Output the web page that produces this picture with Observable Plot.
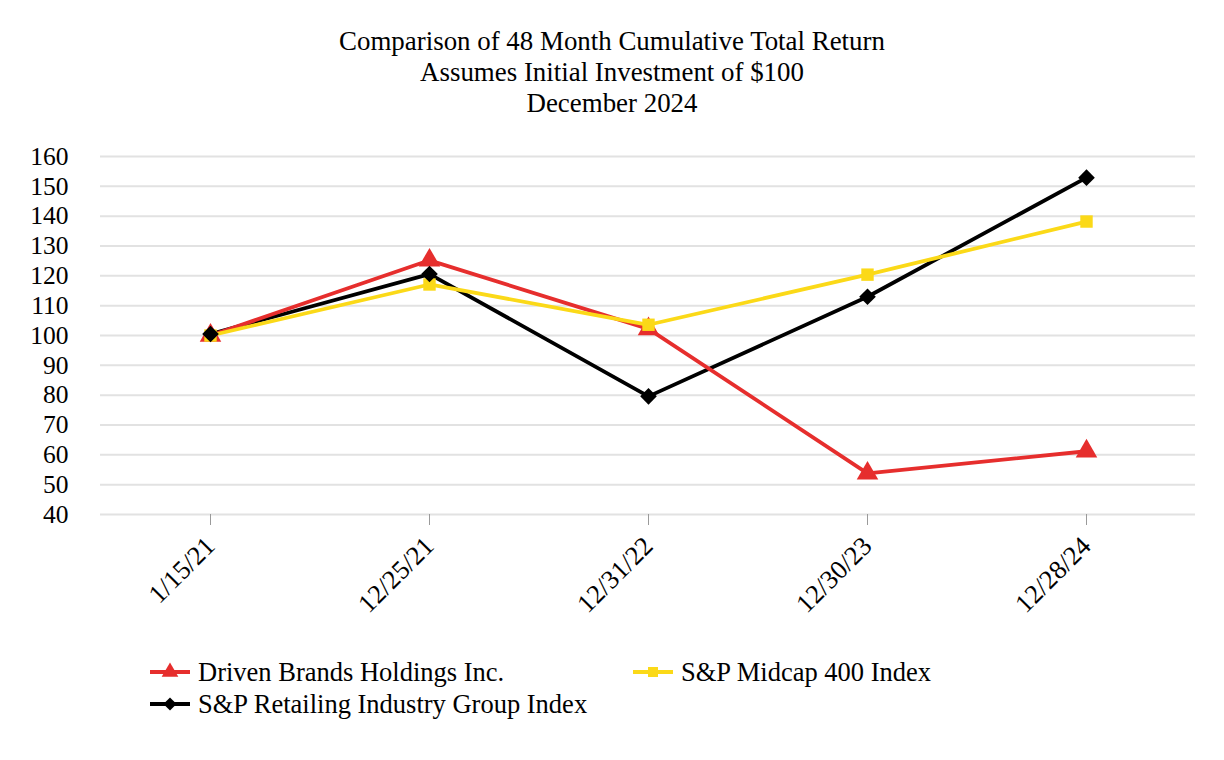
<!DOCTYPE html>
<html>
<head>
<meta charset="utf-8">
<script src="https://cdn.jsdelivr.net/npm/d3@7"></script>
<script src="https://cdn.jsdelivr.net/npm/@observablehq/plot@0.6"></script>
<style>
  html, body { margin: 0; padding: 0; background: #fff; }
  body { width: 1224px; height: 760px; position: relative; font-family: "Liberation Serif", "Times New Roman", serif; color: #000; }
  #title { position: absolute; top: 26px; left: 0; width: 1224px; text-align: center; font-size: 26.9px; line-height: 31px; }
  #chart { position: absolute; top: 130px; left: 0; }
  #chart svg, #chart svg text { font-family: "Liberation Serif", "Times New Roman", serif !important; }
  #chart svg g[aria-label="y-axis tick label"] text { font-size: 25.5px !important; }
  #chart svg g[aria-label="x-axis tick label"] text { font-size: 26.5px !important; }
  .leg { position: absolute; display: flex; align-items: center; font-size: 26.5px; white-space: nowrap; }
  .leg svg { margin-right: 8px; }
</style>
</head>
<body>
<div id="title">Comparison of 48 Month Cumulative Total Return<br>Assumes Initial Investment of $100<br>December 2024</div>
<div id="chart"></div>
<div id="legend"></div>
<script>
const dates = ["1/15/21", "12/25/21", "12/31/22", "12/30/23", "12/28/24"];
const seriesNames = ["Driven Brands Holdings Inc.", "S&P Midcap 400 Index", "S&P Retailing Industry Group Index"];
const driven = [100, 125.2, 102.2, 53.8, 61.2];
const midcap = [100, 117.1, 103.6, 120.4, 138.2];
const retail = [100.5, 120.6, 79.6, 113.0, 152.9];
const yTicks = [40, 50, 60, 70, 80, 90, 100, 110, 120, 130, 140, 150, 160];
const colors = ["#e62e2d", "#fbd918", "#000000"];
const symbols = ["triangle", "square", "diamond2"];

const valuesBySeries = [driven, midcap, retail];
const rows = valuesBySeries.flatMap((vals, i) =>
  vals.map((v, j) => ({ series: seriesNames[i], date: dates[j], value: v })));
const bySeries = name => rows.filter(d => d.series === name);

const lineOrder = [2, 0, 1];
const dotOrder = [0, 1, 2];

const chart = Plot.plot({
  width: 1224,
  height: 510,
  marginTop: 26,
  marginBottom: 126,
  marginLeft: 100,
  marginRight: 29,
  style: "font-family: 'Liberation Serif', serif; font-size: 20px; color: #000; background: transparent;",
  x: { type: "point", domain: dates, padding: 0.5, label: null },
  y: { domain: [40, 160], label: null },
  marks: [
    Plot.ruleY(yTicks, { stroke: "#e2e2e2", strokeWidth: 2 }),
    Plot.axisY({ ticks: yTicks, tickSize: 0, tickPadding: 32, fontSize: 25.5, label: null }),
    Plot.axisX({ tickSize: 11, tickPadding: 16, tickRotate: -45, stroke: "#9a9a9a", fontSize: 26.5, label: null }),
    ...lineOrder.map(i => Plot.line(bySeries(seriesNames[i]), {
      x: "date", y: "value", stroke: colors[i], strokeWidth: 3.8
    })),
    ...dotOrder.map(i => Plot.dot(bySeries(seriesNames[i]), {
      x: "date", y: "value", symbol: symbols[i], fill: colors[i], stroke: "none",
      r: i === 0 ? 8 : (i === 1 ? 7 : 7.5)
    }))
  ]
});
document.getElementById("chart").appendChild(chart);

// Legend
const legendPos = [
  { left: 150, top: 672 },
  { left: 633, top: 672 },
  { left: 150, top: 704 }
];
const legend = document.getElementById("legend");
seriesNames.forEach((name, i) => {
  const div = document.createElement("div");
  div.className = "leg";
  div.style.left = legendPos[i].left + "px";
  div.style.top = (legendPos[i].top - 15) + "px";
  div.style.height = "30px";
  const svg = d3.create("svg").attr("width", 40).attr("height", 20);
  svg.append("line").attr("x1", 0).attr("x2", 40).attr("y1", 10).attr("y2", 10)
    .attr("stroke", colors[i]).attr("stroke-width", 3.8);
  const symMap = { triangle: d3.symbolTriangle, square: d3.symbolSquare, diamond2: d3.symbolDiamond2 };
  const size = i === 0 ? 120 : (i === 1 ? 100 : 110);
  svg.append("path").attr("transform", "translate(20,10)")
    .attr("d", d3.symbol(symMap[symbols[i]], size)())
    .attr("fill", colors[i]);
  div.appendChild(svg.node());
  const span = document.createElement("span");
  span.textContent = name;
  div.appendChild(span);
  legend.appendChild(div);
});
</script>
</body>
</html>
